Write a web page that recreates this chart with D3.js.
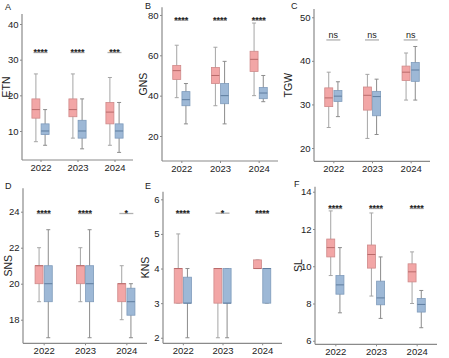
<!DOCTYPE html>
<html><head><meta charset="utf-8">
<script src="https://cdn.jsdelivr.net/npm/d3@7"></script>
<style>body{margin:0;background:#fff} text{font-family:"Liberation Sans",Arial,sans-serif}</style>
</head><body><svg id="c" width="449" height="358"></svg>
<script>
const years = ["2022","2023","2024"];
// each entry: [low whisker, Q1, median, Q3, high whisker]
const etnPink = [[7,13.6,16,19,26],[8,14,16,19,26],[6,12,15.3,18,25]];
const etnBlue = [[6,9,10,12,16],[5,8,10,13,19],[4,8,10,12,18]];
const gnsPink = [[39,48,52.4,55,65],[35,46,50,54,64],[40,52,58,62,76]];
const gnsBlue = [[26,35,38,42,46],[26,36,40,46,57],[37,38.5,41.3,44,50]];
const tgwPink = [[24.7,29.5,31.5,33.8,37.4],[22.2,28.7,32.1,34,36.9],[31,35.5,37.4,38.8,41.8]];
const tgwBlue = [[27.2,30.7,31.9,33.2,35.2],[23.1,27.4,31.8,33,35.8],[31,35.3,37.9,39.6,43.3]];
const snsPink = [[19,20,21,21,22],[19,20,21,21,22],[18,19,20,20,21]];
const snsBlue = [[17,19,20,21,23],[17,19,20,21,23],[17,18.25,19,19.75,20]];
const knsPink = [[3,3,4,4,5],[2,3,4,4,4],[4,4,4,4.25,4.25]];
const knsBlue = [[2,3,3,3.75,4],[2,3,3,4,4],[3,3,4,4,4]];
const slPink = [[9.5,10.5,11,11.46,12.97],[8.4,9.9,10.63,11.14,12.86],[8,9.16,9.7,10.13,10.77]];
const slBlue = [[7.5,8.5,9,9.5,11],[7.2,7.93,8.3,9.2,10.5],[6.7,7.54,7.95,8.27,8.7]];

const etnSig = ["****","****","***"];
const gnsSig = ["****","****","****"];
const tgwSig = ["ns","ns","ns"];
const snsSig = ["****","****","*"];
const knsSig = ["****","*","****"];
const slSig = ["****","****","****"];
const sigLevel = [32, 77.4, 44.8, 23.9, 5.6, 13.1];

const etnTicks = [10,20,30,40];
const gnsTicks = [20,40,60,80];
const tgwTicks = [20,30,40,50];
const snsTicks = [18,20,22,24];
const knsTicks = [2,3,4,5,6];
const slTicks = [6,8,10,12,14];

const titles = ["ETN","GNS","TGW","SNS","KNS","SL"];
const letters = ["A","B","C","D","E","F"];

const panels = [
  {pink:etnPink, blue:etnBlue, sig:etnSig, ticks:etnTicks, x0:22, x1:133, yT:14, yB:160, dom:[1.87,42.8], lx:5, ly:10, tx:6},
  {pink:gnsPink, blue:gnsBlue, sig:gnsSig, ticks:gnsTicks, x0:162, x1:278, yT:7.3, yB:161, dom:[7.6,83.8], lx:145, ly:9, tx:142.5},
  {pink:tgwPink, blue:tgwBlue, sig:tgwSig, ticks:tgwTicks, x0:314, x1:430, yT:9, yB:161.3, dom:[16.95,51.9], lx:291, ly:9, tx:288},
  {pink:snsPink, blue:snsBlue, sig:snsSig, ticks:snsTicks, x0:23, x1:147, yT:188.3, yB:343.3, dom:[16.69,25.3], lx:5, ly:189, tx:8},
  {pink:knsPink, blue:knsBlue, sig:knsSig, ticks:knsTicks, x0:163, x1:282, yT:191.7, yB:343.3, dom:[1.84,6.22], lx:145, ly:189, tx:145},
  {pink:slPink, blue:slBlue, sig:slSig, ticks:slTicks, x0:315, x1:437, yT:186.7, yB:344.3, dom:[5.81,14.27], lx:294, ly:187, tx:297.5}
];

const svg = d3.select("#c");
const axisCol = "#8a8a8a";
const styles = {
  pink:{fill:"#f2a6a6", stroke:"#cf8a8a", med:"#b96a6a", wh:"#a5a5a5"},
  blue:{fill:"#9db8d6", stroke:"#7f9bbb", med:"#5f7d9f", wh:"#8c8c8c"}
};

panels.forEach((p, i) => {
  const g = svg.append("g");
  const x = d3.scalePoint().domain(years).range([p.x0, p.x1]).padding(0.5);
  const y = d3.scaleLinear().domain(p.dom).range([p.yB, p.yT]);

  const ya = g.append("g").attr("transform", `translate(${p.x0},0)`)
    .call(d3.axisLeft(y).tickValues(p.ticks).tickSize(2).tickPadding(1.5).tickFormat(d3.format("d")));
  ya.select(".domain").remove();
  ya.selectAll("line").attr("stroke", axisCol);
  ya.selectAll("text").attr("font-size", 9.5).attr("fill", "#222");
  g.append("line").attr("x1", p.x0).attr("x2", p.x0).attr("y1", p.yT).attr("y2", p.yB)
    .attr("stroke", axisCol).attr("stroke-width", 1.2);

  const xa = g.append("g").attr("transform", `translate(0,${p.yB})`)
    .call(d3.axisBottom(x).tickSize(2).tickPadding(2));
  xa.select(".domain").remove();
  xa.selectAll("line").attr("stroke", axisCol);
  xa.selectAll("text").attr("font-size", 9.5).attr("fill", "#222");
  g.append("line").attr("x1", p.x0).attr("x2", p.x1).attr("y1", p.yB).attr("y2", p.yB)
    .attr("stroke", axisCol).attr("stroke-width", 1.2);

  g.append("text").attr("transform", `translate(${p.tx},${(p.yT+p.yB)/2}) rotate(-90)`)
    .attr("text-anchor", "middle").attr("dominant-baseline", "central")
    .attr("font-size", 10.5).attr("fill", "#222").text(titles[i]);
  g.append("text").attr("x", p.lx).attr("y", p.ly).attr("font-size", 9).attr("fill", "#222").text(letters[i]);

  const bw = 8, off = 4.6, cap = 4;
  [["pink", p.pink, -off], ["blue", p.blue, off]].forEach(([key, data, dx]) => {
    const s = styles[key];
    data.forEach((d, j) => {
      const cx = x(years[j]) + dx;
      const [lo, q1, md, q3, hi] = d;
      g.append("line").attr("x1", cx).attr("x2", cx).attr("y1", y(lo)).attr("y2", y(hi))
        .attr("stroke", s.wh).attr("stroke-width", 1);
      [lo, hi].forEach(v => g.append("line").attr("x1", cx-cap/2).attr("x2", cx+cap/2)
        .attr("y1", y(v)).attr("y2", y(v)).attr("stroke", s.wh).attr("stroke-width", 1));
      g.append("rect").attr("x", cx-bw/2).attr("width", bw)
        .attr("y", y(q3)).attr("height", Math.max(0.5, y(q1)-y(q3)))
        .attr("fill", s.fill).attr("stroke", s.stroke).attr("stroke-width", 0.8);
      g.append("line").attr("x1", cx-bw/2).attr("x2", cx+bw/2).attr("y1", y(md)).attr("y2", y(md))
        .attr("stroke", s.med).attr("stroke-width", 1);
    });
  });

  years.forEach((yr, j) => {
    const cx = x(yr);
    const ly = y(sigLevel[i]);
    g.append("line").attr("x1", cx-7).attr("x2", cx+7).attr("y1", ly).attr("y2", ly)
      .attr("stroke", "#b0b0b0").attr("stroke-width", 1.3);
    const lab = p.sig[j];
    g.append("text").attr("x", cx).attr("y", lab === "ns" ? ly-2 : ly+2.5)
      .attr("text-anchor", "middle").attr("font-size", 9)
      .attr("font-weight", lab === "ns" ? "normal" : "bold")
      .attr("fill", "#222").text(lab);
  });
});
</script></body></html>
